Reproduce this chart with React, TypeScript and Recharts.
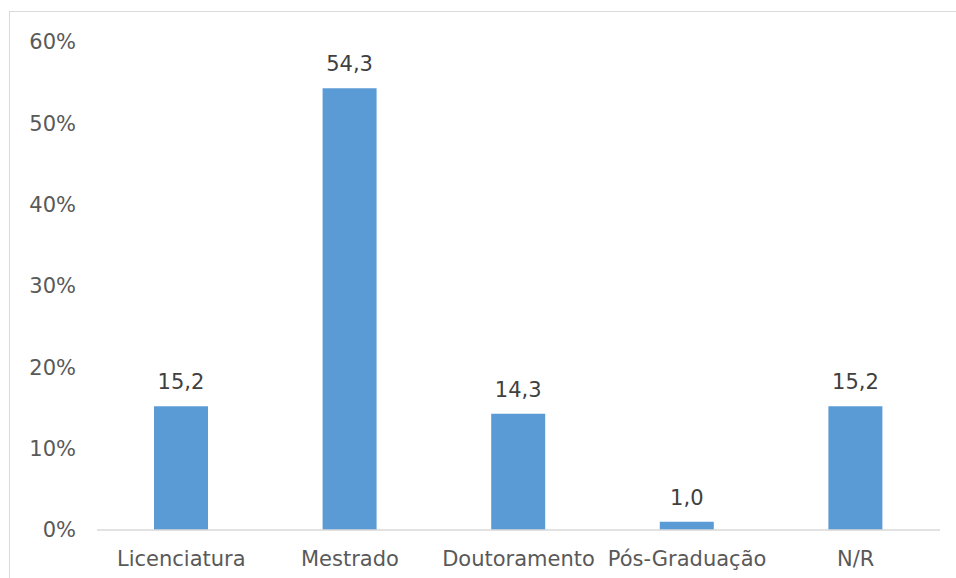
import { BarChart, Bar, XAxis, YAxis, LabelList } from 'recharts';

const categories = ['Licenciatura', 'Mestrado', 'Doutoramento', 'Pós-Graduação', 'N/R'];
const values = [15.2, 54.3, 14.3, 1.0, 15.2];
const yTicks = [0, 10, 20, 30, 40, 50, 60];

const data = categories.map((name, i) => ({ name, value: values[i] }));

const FONT = '"DejaVu Sans", Verdana, sans-serif';

export default function App() {
  return (
    <div
      style={{
        position: 'fixed',
        left: 9,
        top: 11,
        width: 947,
        height: 567,
        overflow: 'hidden',
        borderTop: '1px solid #d9d9d9',
        borderLeft: '1px solid #d9d9d9',
        background: '#fff',
        fontFamily: FONT,
      }}
    >
      <BarChart
        width={940}
        height={570}
        data={data}
        margin={{ top: 30, right: 10, left: 0, bottom: 12 }}
      >
        <XAxis
          dataKey="name"
          height={40}
          tickLine={false}
          tickSize={0}
          tickMargin={21}
          axisLine={{ stroke: '#d9d9d9', strokeWidth: 1.5 }}
          tick={{ fontSize: 21, fill: '#595959', fontFamily: FONT }}
          interval={0}
        />
        <YAxis
          width={87}
          domain={[0, 60]}
          ticks={yTicks}
          tickFormatter={(v: number) => `${v}%`}
          axisLine={false}
          tickLine={false}
          tickSize={0}
          tickMargin={21}
          tick={{ fontSize: 21, fill: '#595959', fontFamily: FONT }}
        />
        <Bar dataKey="value" fill="#5b9bd5" barSize={54} isAnimationActive={false}>
          <LabelList
            dataKey="value"
            position="top"
            offset={17}
            formatter={(v: number) => v.toFixed(1).replace('.', ',')}
            style={{ fontSize: 21, fill: '#404040', fontFamily: FONT }}
          />
        </Bar>
      </BarChart>
    </div>
  );
}
